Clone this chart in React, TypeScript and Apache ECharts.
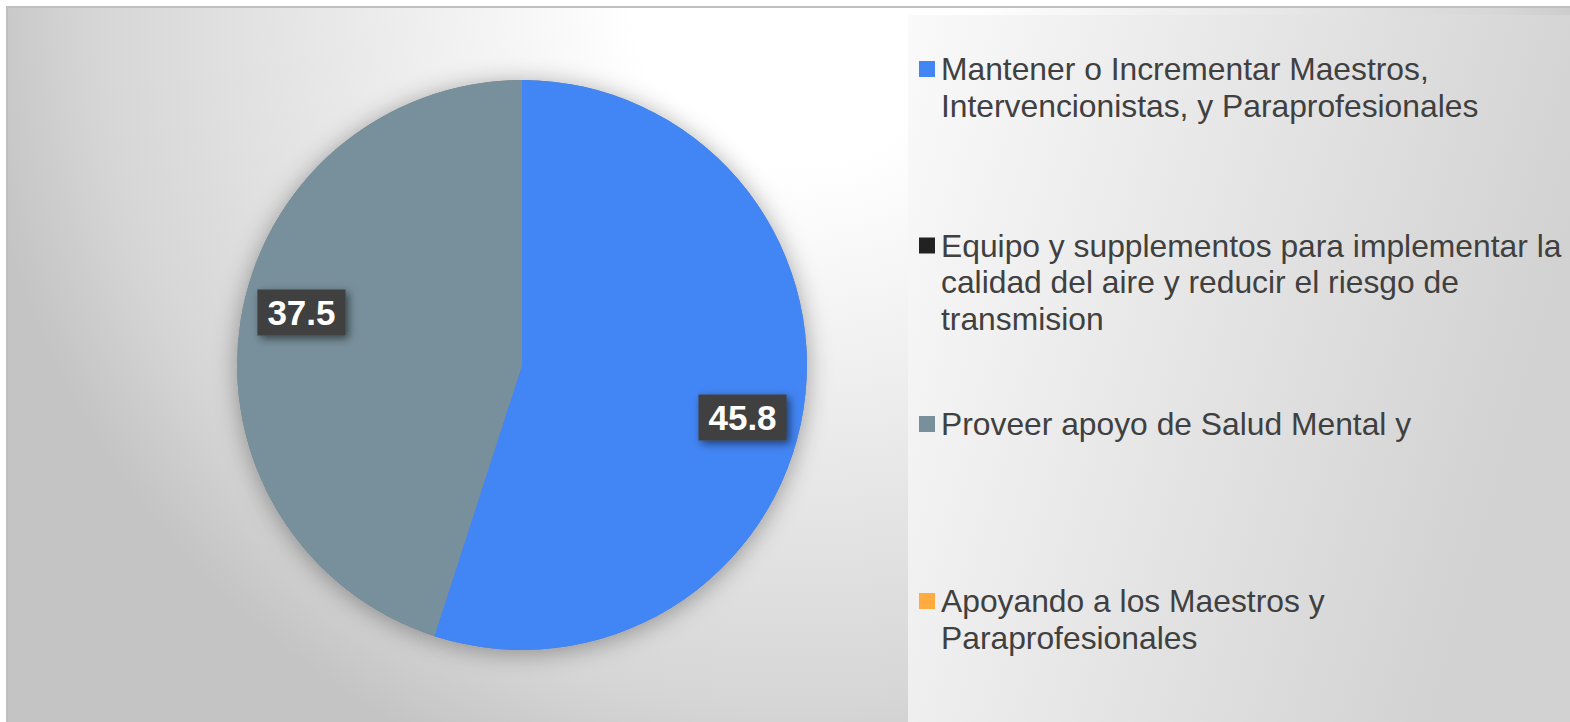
import React, { useEffect, useRef } from "react";
import * as echarts from "echarts";

const categories = [
  "Mantener o Incrementar Maestros, Intervencionistas, y Paraprofesionales",
  "Equipo y supplementos para implementar la calidad del aire y reducir el riesgo de transmision",
  "Proveer apoyo de Salud Mental y",
  "Apoyando a los Maestros y Paraprofesionales",
];
const legendLines = [
  ["Mantener o Incrementar Maestros,", "Intervencionistas, y Paraprofesionales"],
  ["Equipo y supplementos para implementar la", "calidad del aire y reducir el riesgo de", "transmision"],
  ["Proveer apoyo de Salud Mental y"],
  ["Apoyando a los Maestros y", "Paraprofesionales"],
];
const values = [45.8, 0, 37.5, 0];
const colors = ["#4285f4", "#222222", "#78909c", "#ffab40"];

const W = 1570;
const H = 722;
const CX = 522;
const CY = 365;
const R = 285;
const LINE = 36.5;
const FS = 31.8;
const FONT = "'Liberation Sans', Arial, sans-serif";
const legendIconY = [69, 245.5, 424, 601];

export default function App() {
  const ref = useRef<HTMLDivElement>(null);
  useEffect(() => {
    if (!ref.current) return;
    const chart = echarts.init(ref.current, undefined, { renderer: "svg" });
    const ang = (4.4 * Math.PI) / 180;
    const k = 222 / 142.5;
    chart.setOption({
      animation: false,
      graphic: [
        { type: "rect", silent: true, shape: { x: 0, y: 0, width: W, height: H }, style: { fill: "#ffffff" } },
        { type: "rect", silent: true, shape: { x: 6, y: 6, width: W - 6, height: H - 6 }, style: { fill: "#bfbfbf" } },
        {
          type: "rect",
          silent: true,
          shape: { x: 8, y: 8, width: W - 8, height: H - 8 },
          style: {
            fill: new echarts.graphic.RadialGradient(
              800,
              0,
              830,
              [
                { offset: 0, color: "#ffffff" },
                { offset: 0.2, color: "#ffffff" },
                { offset: 0.6, color: "#e6e6e6" },
                { offset: 0.85, color: "#d6d6d6" },
                { offset: 1, color: "#c4c4c4" },
              ],
              true
            ),
          },
        },
        {
          type: "rect",
          silent: true,
          shape: { x: 908, y: 15, width: W - 908, height: H - 15 },
          style: {
            fill: new echarts.graphic.LinearGradient(0, 0, 1, 0.3, [
              { offset: 0, color: "#fafafa" },
              { offset: 1, color: "#d2d2d2" },
            ]),
          },
        },
      ],
      legend: categories.map((name, i) => {
        const n = legendLines[i].length;
        return {
          data: [name],
          left: 919,
          top: legendIconY[i] - ((2 * n - 1) * LINE) / 2,
          padding: 0,
          orient: "vertical",
          icon: "path://M0,0h16v16h-16z",
          itemWidth: 18,
          itemHeight: 16,
          symbolKeepAspect: true,
          selectedMode: false,
          formatter: (nm: string) => {
            const lines = legendLines[categories.indexOf(nm)];
            const pad = new Array(lines.length - 1).fill(" ");
            return pad.concat(lines).join("\n");
          },
          textStyle: {
            fontSize: FS,
            lineHeight: LINE,
            color: "#404040",
            fontFamily: FONT,
          },
        };
      }),
      series: [
        {
          type: "pie",
          name: "main",
          center: [CX, CY],
          radius: R,
          startAngle: 90,
          clockwise: true,
          z: 3,
          silent: true,
          emphasis: { disabled: true },
          data: categories.map((name, i) => ({
            name,
            value: values[i],
            itemStyle: { color: colors[i], borderWidth: 0 },
            label: { show: values[i] > 0 },
          })),
          label: {
            position: "inside",
            formatter: "{c}",
            color: "#ffffff",
            fontSize: 35,
            fontWeight: "bold",
            fontFamily: FONT,
            lineHeight: 38,
            backgroundColor: "#404040",
            padding: [4, 10, 4, 10],
            shadowBlur: 8,
            shadowOffsetX: 3,
            shadowOffsetY: 3,
            shadowColor: "rgba(0,0,0,0.55)",
          },
          labelLine: { show: false },
          labelLayout: (p: any) => {
            if (!p.labelRect) return {};
            const lx = p.labelRect.x + p.labelRect.width / 2;
            const ly = p.labelRect.y + p.labelRect.height / 2;
            const vx = lx - CX;
            const vy = ly - CY;
            const rx = vx * Math.cos(ang) - vy * Math.sin(ang);
            const ry = vx * Math.sin(ang) + vy * Math.cos(ang);
            return { x: CX + rx * k, y: CY + ry * k };
          },
        },
        {
          type: "pie",
          name: "shadow",
          center: [CX, CY],
          radius: R,
          startAngle: 90,
          z: 1,
          silent: true,
          emphasis: { disabled: true },
          data: values.map((v) => ({ value: v })),
          itemStyle: {
            color: "#8a8a8a",
            borderWidth: 0,
            shadowBlur: 24,
            shadowColor: "rgba(0,0,0,0.35)",
            shadowOffsetY: 3,
          },
          label: { show: false },
          labelLine: { show: false },
        },
      ],
    });
    return () => chart.dispose();
  }, []);
  return (
    <div
      ref={ref}
      style={{ position: "absolute", left: 0, top: 0, width: W, height: H }}
    />
  );
}
